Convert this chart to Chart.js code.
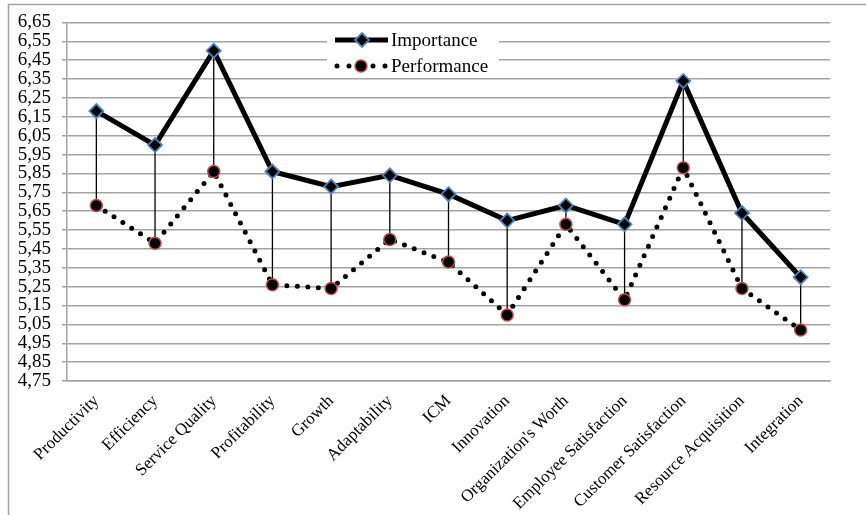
<!DOCTYPE html>
<html>
<head>
<meta charset="utf-8">
<script src="https://cdn.jsdelivr.net/npm/chart.js@4.4.0/dist/chart.umd.min.js"></script>
<style>
html,body{margin:0;padding:0;background:#fff;}
canvas{display:block;}
</style>
</head>
<body>
<canvas id="c" width="866" height="515"></canvas>
<script>
const categories = ["Productivity","Efficiency","Service Quality","Profitability","Growth","Adaptability","ICM","Innovation","Organization's Worth","Employee Satisfaction","Customer Satisfaction","Resource Acquisition","Integration"];
const importance = [6.18, 6.00, 6.50, 5.86, 5.78, 5.84, 5.74, 5.60, 5.68, 5.58, 6.34, 5.64, 5.30];
const performance = [5.68, 5.48, 5.86, 5.26, 5.24, 5.50, 5.38, 5.10, 5.58, 5.18, 5.88, 5.24, 5.02];
const yTickValues = [4.75,4.85,4.95,5.05,5.15,5.25,5.35,5.45,5.55,5.65,5.75,5.85,5.95,6.05,6.15,6.25,6.35,6.45,6.55,6.65];
const seriesNames = ["Importance","Performance"];

const FONT = "'Liberation Serif', 'Times New Roman', serif";
const GRID = '#a3a3a3';

const dropLines = {
  id: 'dropLines',
  beforeDatasetsDraw(chart) {
    const ctx = chart.ctx;
    const m0 = chart.getDatasetMeta(0).data;
    const m1 = chart.getDatasetMeta(1).data;
    ctx.save();
    ctx.strokeStyle = '#000';
    ctx.lineWidth = 1.3;
    for (let i = 0; i < m0.length; i++) {
      ctx.beginPath();
      ctx.moveTo(m0[i].x, m0[i].y);
      ctx.lineTo(m1[i].x, m1[i].y);
      ctx.stroke();
    }
    ctx.restore();
  }
};

const frameAndLegend = {
  id: 'frameAndLegend',
  afterDraw(chart) {
    const ctx = chart.ctx;
    ctx.save();
    // outer frame (top & left visible)
    ctx.strokeStyle = GRID;
    ctx.lineWidth = 1.5;
    ctx.beginPath();
    ctx.moveTo(8.5, 515);
    ctx.lineTo(8.5, 4.5);
    ctx.lineTo(866, 4.5);
    ctx.stroke();

    // legend box
    ctx.fillStyle = '#fff';
    ctx.fillRect(327, 27, 172, 51);
    const ds = chart.data.datasets;
    const rows = [40, 66];
    ds.forEach((d, i) => {
      const y = rows[i];
      ctx.save();
      ctx.strokeStyle = d.borderColor;
      ctx.lineWidth = d.borderWidth;
      ctx.lineCap = d.borderCapStyle || 'butt';
      ctx.beginPath();
      if (d.borderDash && d.borderDash.length) {
        ctx.setLineDash([0, 12]);
        ctx.moveTo(337, y); ctx.lineTo(386, y);
      } else {
        ctx.moveTo(335, y); ctx.lineTo(388, y);
      }
      ctx.stroke();
      ctx.restore();
      ctx.save();
      ctx.fillStyle = d.pointBackgroundColor;
      ctx.strokeStyle = d.pointBorderColor;
      ctx.lineWidth = d.pointBorderWidth;
      ctx.beginPath();
      if (d.pointStyle === 'rectRot') {
        const r = d.pointRadius;
        ctx.moveTo(362, y - r); ctx.lineTo(362 + r, y); ctx.lineTo(362, y + r); ctx.lineTo(362 - r, y); ctx.closePath();
      } else {
        ctx.arc(361, y, d.pointRadius, 0, Math.PI * 2);
      }
      ctx.fill(); ctx.stroke();
      ctx.restore();
      ctx.fillStyle = '#000';
      ctx.font = "19px " + FONT;
      ctx.textBaseline = 'middle';
      ctx.textAlign = 'left';
      ctx.fillText(d.label, 391, y + 1);
    });
    ctx.restore();
  }
};

new Chart(document.getElementById('c'), {
  type: 'line',
  data: {
    labels: categories,
    datasets: [
      {
        label: seriesNames[0],
        data: importance,
        borderColor: '#000',
        borderWidth: 5,
        tension: 0,
        fill: false,
        pointStyle: 'rectRot',
        pointRadius: 7,
        pointBackgroundColor: '#000',
        pointBorderColor: '#4f81bd',
        pointBorderWidth: 1.8,
        pointHoverRadius: 7
      },
      {
        label: seriesNames[1],
        data: performance,
        borderColor: '#000',
        borderWidth: 5,
        borderDash: [0, 10.5],
        borderCapStyle: 'round',
        tension: 0,
        fill: false,
        pointStyle: 'circle',
        pointRadius: 6,
        pointBackgroundColor: '#000',
        pointBorderColor: '#c0504d',
        pointBorderWidth: 1.5,
        pointHoverRadius: 6
      }
    ]
  },
  options: {
    responsive: false,
    animation: false,
    devicePixelRatio: 1,
    layout: { padding: { top: 20, right: 36, left: 0, bottom: 0 } },
    plugins: {
      legend: { display: false },
      tooltip: { enabled: false }
    },
    scales: {
      x: {
        type: 'category',
        offset: true,
        grid: { display: false, drawTicks: false },
        border: { display: true, color: GRID, width: 1.5 },
        ticks: {
          color: '#000',
          font: { family: FONT, size: 17 },
          maxRotation: 45,
          minRotation: 45,
          padding: 10,
          autoSkip: false
        },
        afterFit(scale) { scale.height = 134; }
      },
      y: {
        min: 4.75,
        max: 6.65,
        grid: { color: GRID, lineWidth: 1.5, tickLength: 5, drawTicks: true },
        border: { display: true, color: GRID, width: 1.5 },
        ticks: {
          color: '#000',
          font: { family: FONT, size: 19 },
          padding: 11,
          autoSkip: false,
          callback: (v) => Number(v).toFixed(2).replace('.', ',')
        },
        afterBuildTicks(scale) {
          scale.ticks = yTickValues.map(v => ({ value: v }));
        },
        afterFit(scale) { scale.width = 67; }
      }
    }
  },
  plugins: [dropLines, frameAndLegend]
});
</script>
</body>
</html>
